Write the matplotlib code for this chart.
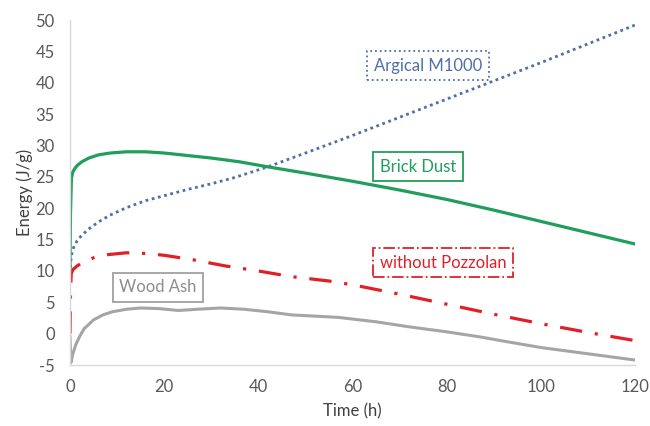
"""
Heat of hydration curves (energy vs time) for mixes with different pozzolans
"""

import matplotlib
matplotlib.use("Agg")
import matplotlib.pyplot as plt

plt.rcParams["font.family"] = ["Lato", "DejaVu Sans"]
plt.rcParams["axes.unicode_minus"] = False

# Brick Dust
brick_t = [0, 0.1, 0.3, 0.6, 1, 1.5, 2.5, 4, 6, 8.5, 12, 16, 20, 25, 30, 36,
           42, 50, 60, 70, 80, 90, 100, 110, 120]
brick_e = [10, 19, 24.8, 25.8, 26.3, 26.8, 27.4, 28.0, 28.5, 28.8, 29.0, 29.0,
           28.8, 28.4, 28.0, 27.4, 26.6, 25.6, 24.3, 22.9, 21.4, 19.7, 17.9,
           16.1, 14.3]

# Argical M1000
argical_t = [0, 0.15, 0.4, 0.8, 1.5, 2.5, 4, 6, 8.5, 12, 16, 20, 25, 30, 35,
             42, 50, 60, 70, 80, 90, 100, 110, 120]
argical_e = [9.5, 11.5, 12.8, 13.8, 14.8, 15.7, 16.7, 17.8, 18.9, 20.1, 21.2,
             22.0, 23.0, 23.9, 24.9, 26.6, 28.8, 31.6, 34.5, 37.4, 40.3, 43.2,
             46.2, 49.2]

# without Pozzolan
plain_t = [0, 0.1, 0.25, 0.6, 1.5, 3, 5, 8, 12, 16, 20, 26, 33, 40, 47, 55,
           60, 70, 80, 90, 100, 110, 120]
plain_e = [0, 6, 9.5, 10.2, 10.8, 11.5, 12.1, 12.6, 12.9, 12.8, 12.5, 11.8,
           10.8, 10.0, 9.1, 8.4, 7.8, 6.3, 4.7, 3.1, 1.6, 0.2, -1.1]

# Wood Ash
ash_t = [0, 0.2, 0.6, 1.2, 2, 3, 5, 7, 9, 12, 15, 19, 23, 27, 32, 37, 42, 47,
         52, 57, 65, 72, 80, 87, 93, 100, 110, 120]
ash_e = [-0.5, -4.6, -3.2, -1.8, -0.5, 0.8, 2.2, 3.0, 3.5, 3.9, 4.1, 4.0, 3.7,
         3.9, 4.1, 3.9, 3.5, 3.0, 2.8, 2.6, 1.9, 1.1, 0.3, -0.5, -1.3, -2.2,
         -3.2, -4.2]

x_ticks = [0, 20, 40, 60, 80, 100, 120]
y_ticks = list(range(-5, 51, 5))

GREEN = "#1f9e5c"
BLUE = "#4f6fa8"
RED = "#e02027"
GREY = "#a5a5a5"

fig = plt.figure(figsize=(6.5, 4.26), dpi=100, facecolor="white")
ax = fig.add_axes([0.1077, 0.143, 0.8693, 0.81])

ax.plot(argical_t, argical_e, color=BLUE, linewidth=2, linestyle=(0, (1, 1.3)))
ax.plot(ash_t, ash_e, color=GREY, linewidth=2.2)
ax.plot(plain_t, plain_e, color=RED, linewidth=2.3,
        linestyle=(0, (7, 4, 1, 4)))
ax.plot(brick_t, brick_e, color=GREEN, linewidth=2.3)

ax.set_xlim(0, 120)
ax.set_ylim(-5, 50)
ax.set_xticks(x_ticks)
ax.set_yticks(y_ticks)
ax.tick_params(length=0, labelsize=12, colors="#595959")
ax.tick_params(axis="y", pad=11)
ax.tick_params(axis="x", pad=10)

for side in ("top", "right"):
    ax.spines[side].set_visible(False)
for side in ("left", "bottom"):
    ax.spines[side].set_color("#d9d9d9")
    ax.spines[side].set_linewidth(1)

ax.set_xlabel("Time (h)", fontsize=12, color="#404040", labelpad=6)
ax.set_ylabel("Energy (J/g)", fontsize=12, color="#404040", labelpad=2)

# series labels in boxes
box = dict(boxstyle="square,pad=0.4", facecolor="white", linewidth=1.3)
ax.text(76, 42.7, "Argical M1000", color=BLUE, fontsize=12, ha="center",
        va="center", bbox=dict(box, edgecolor=BLUE, linestyle=":"))
ax.text(73.9, 26.6, "Brick Dust", color=GREEN, fontsize=12, ha="center",
        va="center", bbox=dict(box, edgecolor=GREEN))
ax.text(79.2, 11.3, "without Pozzolan", color=RED, fontsize=12, ha="center",
        va="center", bbox=dict(box, edgecolor=RED, linestyle="-."))
ax.text(18.7, 7.4, "Wood Ash", color="#8c8c8c", fontsize=12, ha="center",
        va="center", bbox=dict(box, edgecolor="#a0a0a0"))

fig.savefig("out.png", dpi=100, facecolor=fig.get_facecolor())
plt.close(fig)
